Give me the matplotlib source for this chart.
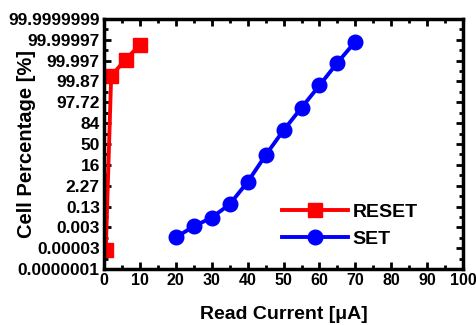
import matplotlib
matplotlib.use("Agg")
import matplotlib.pyplot as plt
from matplotlib.ticker import MultipleLocator

# Data (y in sigma units of the normal-probability scale)
reset_current = [0.5, 2, 6, 10]
reset_sigma = [-5.1, 3.26, 4.05, 4.75]
set_current = [20, 25, 30, 35, 40, 45, 50, 55, 60, 65, 70]
set_sigma = [-4.48, -3.95, -3.53, -2.89, -1.82, -0.54, 0.66, 1.74, 2.81, 3.9, 4.91]

ytick_sigma = [-6, -5, -4, -3, -2, -1, 0, 1, 2, 3, 4, 5, 6]
ytick_labels = ["0.0000001", "0.00003", "0.003", "0.13", "2.27", "16", "50",
                "84", "97.72", "99.87", "99.997", "99.99997", "99.9999999"]
xticks = [0, 10, 20, 30, 40, 50, 60, 70, 80, 90, 100]

plt.rcParams['font.family'] = ['Liberation Sans', 'DejaVu Sans']
plt.rcParams['font.weight'] = 'bold'

fig = plt.figure(figsize=(4.77, 3.25), dpi=100)
ax = fig.add_axes([0.218, 0.172, 0.753, 0.770])

ax.plot(reset_current, reset_sigma, color='#ff0000', lw=2.8, marker='s', ms=9.5,
        label='RESET')
ax.plot(set_current, set_sigma, color='#0000ff', lw=2.8, marker='o', ms=10.5,
        label='SET')

ax.set_xlim(0, 100)
ax.set_ylim(-6, 6)
ax.set_xticks(xticks)
ax.set_xticklabels([str(v) for v in xticks], fontsize=11.5, fontweight='bold')
ax.xaxis.set_minor_locator(MultipleLocator(5))
ax.set_yticks(ytick_sigma)
ax.set_yticklabels(ytick_labels, fontsize=12.5, fontweight='bold')
ax.yaxis.set_minor_locator(MultipleLocator(0.5))

ax.tick_params(which='both', direction='in', top=True, right=True, width=2)
ax.tick_params(which='major', length=5)
ax.tick_params(which='minor', length=3)
ax.tick_params(axis='both', which='major', pad=3)
for s in ax.spines.values():
    s.set_linewidth(2.5)

ax.set_xlabel('Read Current [\u03bcA]', fontsize=14, fontweight='bold', labelpad=13)
ax.set_ylabel('Cell Percentage [%]', fontsize=14.5, fontweight='bold')
ax.yaxis.set_label_coords(-0.19, 0.5)

leg = ax.legend(loc='lower left', bbox_to_anchor=(0.475, 0.055), frameon=False,
                fontsize=14, numpoints=1, handlelength=3.4, handletextpad=0.2,
                labelspacing=0.45, borderaxespad=0)
for t in leg.get_texts():
    t.set_fontweight('bold')

fig.savefig('out.png', dpi=100)
